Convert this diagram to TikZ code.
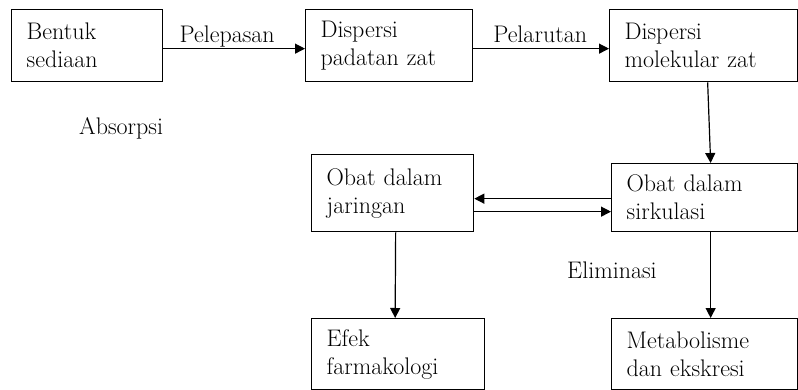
\documentclass[tikz,border=0pt]{standalone}
\usetikzlibrary{arrows.meta,positioning}
\tikzset{
  kotak/.style={draw, line width=1.3pt, rectangle, anchor=north west, align=left,
    inner xsep=15pt, inner ysep=0pt, font=\fontsize{24}{28}\selectfont},
  teks/.style={inner sep=0pt, font=\fontsize{24}{28}\selectfont},
  panah/.style={-{Triangle[length=10pt,width=10pt]}, line width=1.2pt}
}
\newcommand{\Kotak}[4][]{\node[kotak, #1] (#2) at (#3) {#4};}

\begin{document}
\begin{tikzpicture}[x=1pt, y=-1pt]
\useasboundingbox (0,0) rectangle (798,390);
\Kotak[text width=121pt, minimum height=72pt]{sediaan}{11,9}{Bentuk\\sediaan}
	\Kotak[text width=137pt, minimum height=72pt]{padatan}{305,9}{Dispersi\\padatan zat}
	\Kotak[text width=158pt, minimum height=72pt]{molekular}{609,9}{Dispersi\\molekular zat}
	\Kotak[text width=156pt, minimum height=68pt]{sirkulasi}{611,163}{Obat dalam\\sirkulasi}
	\Kotak[text width=132pt, minimum height=77pt]{jaringan}{311,154}{Obat dalam\\jaringan}
	\Kotak[text width=143pt, minimum height=71pt]{efek}{311,318}{Efek\\farmakologi}
	\Kotak[text width=156pt, minimum height=71pt]{ekskresi}{611,318}{Metabolisme\\dan ekskresi}
	
	\node[teks, anchor=base west] (absorpsi) at (79,135) {Absorpsi};
	\node[teks, anchor=base west] (eliminasi) at (567,278) {Eliminasi};
	
	\draw[panah] ([yshift=-3pt]sediaan.east) -- ([yshift=-3pt]padatan.west)
		node[teks, midway, anchor=base, yshift=6pt, xshift=-7pt] (pelepasan) {Pelepasan};
	\draw[panah] ([yshift=-3pt]padatan.east) -- ([yshift=-3pt]molekular.west)
		node[teks, midway, anchor=base, yshift=6pt, xshift=-1pt] (pelarutan) {Pelarutan};
	
	\draw[panah] ([xshift=4pt]molekular.south) -- ([xshift=6pt]sirkulasi.north);
	\draw[panah] ([yshift=-1pt]sirkulasi.west) -- ([yshift=-5.5pt]jaringan.east);
	\draw[panah] ([yshift=-18.5pt]jaringan.east) -- ([yshift=-14pt]sirkulasi.west);
	
	\draw[panah] ([xshift=3pt]jaringan.south) -- ([xshift=-3pt]efek.north);
	\draw[panah] ([xshift=6pt]sirkulasi.south) -- ([xshift=6pt]ekskresi.north);

\end{tikzpicture}
\end{document}
